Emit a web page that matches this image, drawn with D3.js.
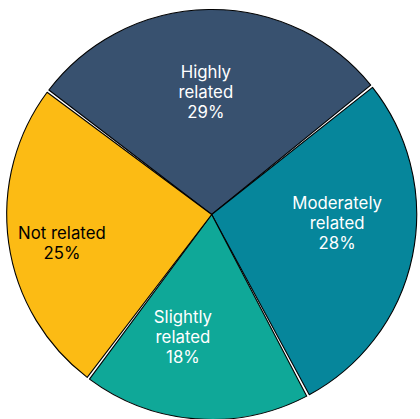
<!DOCTYPE html>
<html><head><meta charset="utf-8">
<script src="https://cdn.jsdelivr.net/npm/d3@7"></script>
<style>html,body{margin:0;padding:0;background:#fff;}svg{display:block;}</style>
</head><body>
<svg id="chart" width="420" height="419"></svg>
<script>
const categories = ["Highly related", "Moderately related", "Slightly related", "Not related"];
const labelLines = [["Highly", "related"], ["Moderately", "related"], ["Slightly", "related"], ["Not related"]];
const values = [29, 28, 18, 25];
const colors = ["#38516f", "#06869b", "#0fa898", "#fcbb14"];
const textColors = ["#ffffff", "#ffffff", "#ffffff", "#000000"];
const labelNudge = [[-4, 3], [3, -17], [-19, -2], [-26, 11]];

const W = 420, H = 419;
const cx = 211.7, cy = 214.5, R = 205;
const svg = d3.select("#chart");
const g = svg.append("g").attr("transform", `translate(${cx},${cy})`);

const startDeg = -53;
const pie = d3.pie().sort(null).value(d => d)
  .startAngle(startDeg * Math.PI / 180)
  .endAngle((startDeg + 360) * Math.PI / 180)
  .padAngle(0.014);
const arcs = pie(values);
const arc = d3.arc().innerRadius(0).outerRadius(R).padRadius(R);
const labelArc = d3.arc().innerRadius(125).outerRadius(125);

g.selectAll("path.slice").data(arcs).enter().append("path")
  .attr("class", "slice")
  .attr("d", arc)
  .attr("fill", (d, i) => colors[i])
  .attr("stroke", "#000")
  .attr("stroke-width", 1.1)
  .attr("stroke-linejoin", "round");

const lineH = 20;
const labels = g.selectAll("g.lbl").data(arcs).enter().append("g")
  .attr("class", "lbl")
  .attr("transform", (d, i) => {
    const c = labelArc.centroid(d);
    return `translate(${c[0] + labelNudge[i][0]},${c[1] + labelNudge[i][1]})`;
  });
labels.each(function(d, i) {
  const lines = labelLines[i].concat([values[i] + "%"]);
  const n = lines.length;
  const sel = d3.select(this);
  lines.forEach((t, k) => {
    sel.append("text")
      .attr("x", 0)
      .attr("y", (k - (n - 1) / 2) * lineH)
      .attr("dy", "0.35em")
      .attr("text-anchor", "middle")
      .attr("font-family", "Inter, 'Liberation Sans', Arial, sans-serif")
      .attr("font-size", 16.8)
      .attr("fill", textColors[i])
      .text(t);
  });
});
</script>
</body></html>
